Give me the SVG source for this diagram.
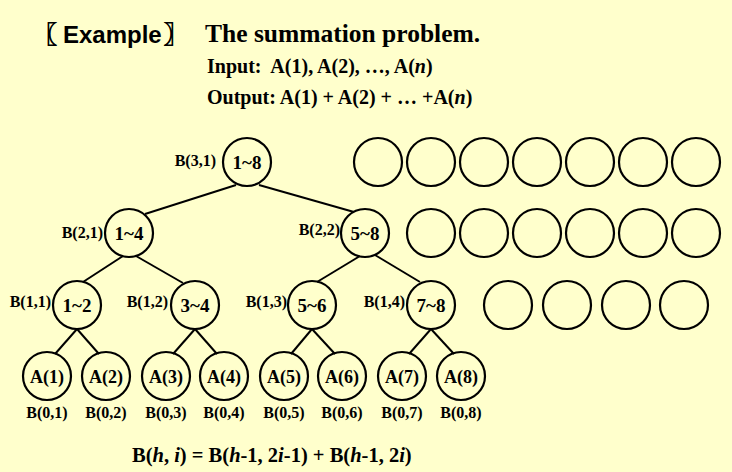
<svg xmlns="http://www.w3.org/2000/svg" width="732" height="472" viewBox="0 0 732 472">
<style>
.bg{fill:#FFFFCC}
circle{fill:none;stroke:#000;stroke-width:2.2}
.e line{stroke:#000;stroke-width:2}
text{font-family:"Liberation Serif","Times New Roman",serif;font-weight:bold;fill:#000}
.n{font-size:19px;text-anchor:middle}
.a{font-size:18px;text-anchor:middle}
.l{font-size:16px;text-anchor:end}
.b{font-size:16px;text-anchor:middle}
.i{font-style:italic}
.br{stroke:#000;stroke-width:0.9}
</style>
<rect class="bg" x="0" y="0" width="732" height="472"/>
<g id="title">
<text x="33" y="43" style="font-family:'Liberation Sans','Noto Sans CJK SC',sans-serif;font-size:24px"><tspan class="br">〖</tspan><tspan dx="6">Example</tspan><tspan class="br" dx="2">〗</tspan></text>
<text x="205" y="42" style="font-size:25.5px">The summation problem.</text>
<text x="207" y="73" style="font-size:20px" xml:space="preserve">Input:  A(1), A(2), …, A(<tspan class="i">n</tspan>)</text>
<text x="207" y="104" style="font-size:20px">Output: A(1) + A(2) + … +A(<tspan class="i">n</tspan>)</text>
</g>
<g id="connectors" class="e">
<line x1="236" y1="185" x2="145" y2="214"/>
<line x1="259" y1="185" x2="354" y2="212"/>
<line x1="123" y1="256" x2="83" y2="282"/>
<line x1="136" y1="256" x2="183" y2="283"/>
<line x1="360" y1="256" x2="317" y2="282"/>
<line x1="375" y1="255" x2="420" y2="282"/>
<line x1="77" y1="329" x2="55" y2="354"/>
<line x1="77" y1="329" x2="99" y2="354"/>
<line x1="195" y1="329" x2="173" y2="354"/>
<line x1="195" y1="329" x2="217" y2="354"/>
<line x1="312" y1="329" x2="291" y2="354"/>
<line x1="312" y1="329" x2="335" y2="354"/>
<line x1="431" y1="329" x2="409" y2="354"/>
<line x1="431" y1="329" x2="454" y2="354"/>
</g>
<g id="n31"><circle cx="247" cy="162" r="24"/><text class="n" x="247" y="169">1~8</text><text class="l" x="216" y="166">B(3,1)</text></g>
<g id="n21"><circle cx="129" cy="233" r="24"/><text class="n" x="129" y="240">1~4</text><text class="l" x="103" y="238">B(2,1)</text></g>
<g id="n22"><circle cx="365" cy="233" r="24"/><text class="n" x="365" y="240">5~8</text><text class="l" x="340" y="235">B(2,2)</text></g>
<g id="n11"><circle cx="77" cy="305" r="24"/><text class="n" x="77" y="312">1~2</text><text class="l" x="51" y="307">B(1,1)</text></g>
<g id="n12"><circle cx="195" cy="305" r="24"/><text class="n" x="195" y="312">3~4</text><text class="l" x="168" y="307">B(1,2)</text></g>
<g id="n13"><circle cx="312" cy="305" r="24"/><text class="n" x="312" y="312">5~6</text><text class="l" x="287" y="307">B(1,3)</text></g>
<g id="n14"><circle cx="431" cy="305" r="24"/><text class="n" x="431" y="312">7~8</text><text class="l" x="405" y="307">B(1,4)</text></g>
<g id="n01"><circle cx="47" cy="376" r="24"/><text class="a" x="47" y="383">A(1)</text><text class="b" x="47" y="418">B(0,1)</text></g>
<g id="n02"><circle cx="106" cy="376" r="24"/><text class="a" x="106" y="383">A(2)</text><text class="b" x="106" y="418">B(0,2)</text></g>
<g id="n03"><circle cx="166" cy="376" r="24"/><text class="a" x="166" y="383">A(3)</text><text class="b" x="166" y="418">B(0,3)</text></g>
<g id="n04"><circle cx="224" cy="376" r="24"/><text class="a" x="224" y="383">A(4)</text><text class="b" x="224" y="418">B(0,4)</text></g>
<g id="n05"><circle cx="284" cy="376" r="24"/><text class="a" x="284" y="383">A(5)</text><text class="b" x="284" y="418">B(0,5)</text></g>
<g id="n06"><circle cx="342" cy="376" r="24"/><text class="a" x="342" y="383">A(6)</text><text class="b" x="342" y="418">B(0,6)</text></g>
<g id="n07"><circle cx="402" cy="376" r="24"/><text class="a" x="402" y="383">A(7)</text><text class="b" x="402" y="418">B(0,7)</text></g>
<g id="n08"><circle cx="461" cy="376" r="24"/><text class="a" x="461" y="383">A(8)</text><text class="b" x="461" y="418">B(0,8)</text></g>
<g id="empty">
<circle cx="378" cy="162" r="24"/><circle cx="431" cy="162" r="24"/><circle cx="484" cy="162" r="24"/><circle cx="537" cy="162" r="24"/><circle cx="590" cy="162" r="24"/><circle cx="643" cy="162" r="24"/><circle cx="696" cy="162" r="24"/>
<circle cx="431" cy="233" r="24"/><circle cx="484" cy="233" r="24"/><circle cx="537" cy="233" r="24"/><circle cx="590" cy="233" r="24"/><circle cx="643" cy="233" r="24"/><circle cx="696" cy="233" r="24"/>
<circle cx="508" cy="305" r="24"/><circle cx="567" cy="305" r="24"/><circle cx="626" cy="305" r="24"/><circle cx="684" cy="305" r="24"/>
</g>
<g id="formula">
<text x="132" y="462" style="font-size:20.5px">B(<tspan class="i">h</tspan>, <tspan class="i">i</tspan>) = B(<tspan class="i">h</tspan>-1, 2<tspan class="i">i</tspan>-1) + B(<tspan class="i">h</tspan>-1, 2<tspan class="i">i</tspan>)</text>
</g>
</svg>
